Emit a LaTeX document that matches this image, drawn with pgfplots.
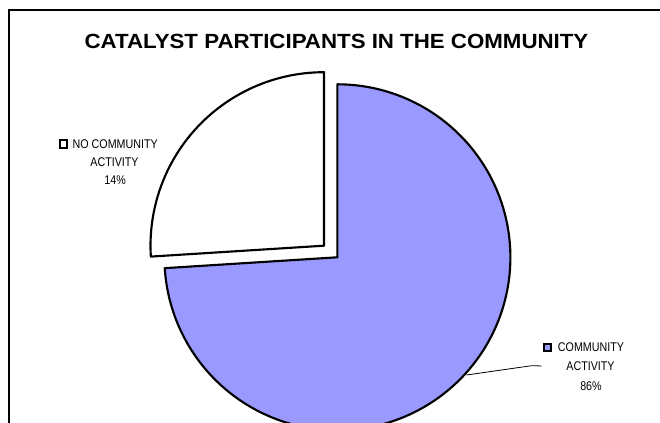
\documentclass[border=0pt]{standalone}
\usepackage{fontspec}
\setmainfont{Liberation Sans}
\newfontfamily\titlefont{Liberation Sans}[FakeStretch=1.085]
\newfontfamily\labfont{Liberation Sans}[FakeStretch=0.85]
\usepackage{pgfplots}
\pgfplotsset{compat=1.18}
\definecolor{pieblue}{HTML}{9999FF}
\tikzset{labtext/.style={anchor=base, inner sep=0pt, font=\labfont\fontsize{9.45}{11}\selectfont}}

\begin{document}
\begin{tikzpicture}
\begin{axis}[
  scale only axis, width=495pt, height=317.25pt,
  xmin=0, xmax=660, ymin=0, ymax=423, y dir=reverse,
  hide axis, clip=true, clip bounding box=upper bound,
]
% frame (left and top edges)
\addplot[black, line width=1.1pt] coordinates {(9.2,423) (9.2,10) (662,10)};

% COMMUNITY ACTIVITY slice (drawn span 266.4 deg)
\addplot[draw=black, fill=pieblue, line width=1.6pt, line join=round,
  domain=-176.4:90, samples=200, variable=\t]
  ({337.4+173*cos(\t)}, {257.3-173*sin(\t)}) -- (axis cs:337.4,257.3) -- cycle;

% NO COMMUNITY ACTIVITY slice (exploded, drawn span 93.6 deg)
\addplot[draw=black, fill=white, line width=1.6pt, line join=round,
  domain=90:183.6, samples=80, variable=\t]
  ({324+173.5*cos(\t)}, {245.7-173.5*sin(\t)}) -- (axis cs:324,245.7) -- cycle;

% leader line
\addplot[black, line width=0.6pt] coordinates {(541.7,366) (531.7,365.7) (466.5,375)};

% legend keys
\addplot[only marks, mark=square*, mark size=2.8pt,
  mark options={fill=white, draw=black, line width=1.5pt}] coordinates {(63.3,143.8)};
\addplot[only marks, mark=square*, mark size=2.8pt,
  mark options={fill=pieblue, draw=black, line width=1.5pt}] coordinates {(547.6,347.5)};

% title
\node[anchor=base, inner sep=0pt, font=\titlefont\bfseries\fontsize{15.4}{18}\selectfont]
  at (axis cs:336.5,49) {CATALYST PARTICIPANTS IN THE COMMUNITY};

% labels
\node[labtext] at (axis cs:115.2,148.3) {NO COMMUNITY};
\node[labtext] at (axis cs:114.5,166.7) {ACTIVITY};
\node[labtext] at (axis cs:115.2,185) {14\%};

\node[labtext] at (axis cs:591,352) {COMMUNITY};
\node[labtext] at (axis cs:590.5,370.5) {ACTIVITY};
\node[labtext] at (axis cs:591,391) {86\%};
\end{axis}
\path (current axis.south west) rectangle (current axis.north east);
\end{tikzpicture}
\end{document}
